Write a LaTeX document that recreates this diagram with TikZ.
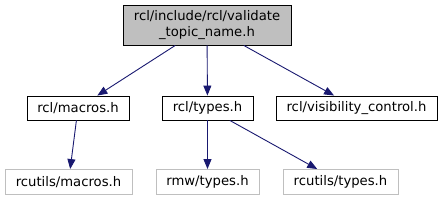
\documentclass[tikz,border=0pt]{standalone}
\usepackage{fontspec}
\setmainfont{DejaVu Sans}
\usetikzlibrary{arrows.meta}
\definecolor{edgeblue}{HTML}{191970}
\definecolor{lightgrayb}{HTML}{BFBFBF}
\tikzset{
  box/.style={draw=black, line width=0.9pt, inner sep=0pt, font=\fontsize{13.2}{16}\selectfont, text=black},
  extbox/.style={draw=lightgrayb, line width=0.9pt, inner sep=0pt, font=\fontsize{13.2}{16}\selectfont, text=black},
  edge/.style={draw=edgeblue, line width=0.9pt, -{Triangle[length=10pt,width=8pt]}, shorten >=0pt}
}
\begin{document}
\begin{tikzpicture}[x=1pt,y=1pt]
\useasboundingbox (0,0) rectangle (445,-201);
\node[box, fill=lightgrayb, minimum width=168pt, minimum height=40pt, align=center] (top) at (207,-25) {rcl/include/rcl/validate\\\_topic\_name.h};
\node[box, minimum width=102pt, minimum height=24pt] (macros) at (78,-108) {rcl/macros.h};
\node[box, minimum width=91pt, minimum height=24pt] (types) at (207.5,-108) {rcl/types.h};
\node[box, minimum width=161pt, minimum height=24pt] (vis) at (356.5,-108) {rcl/visibility\_control.h};
\node[extbox, minimum width=127pt, minimum height=25pt] (rcmacros) at (68.5,-182) {rcutils/macros.h};
\node[extbox, minimum width=103pt, minimum height=25pt] (rmwtypes) at (207.5,-182) {rmw/types.h};
\node[extbox, minimum width=115pt, minimum height=25pt] (rctypes) at (340.5,-182) {rcutils/types.h};
\draw[edge] (top) -- (macros);
\draw[edge] (top) -- (types);
\draw[edge] (top) -- (vis);
\draw[edge] (macros) -- (rcmacros);
\draw[edge] (types) -- (rmwtypes);
\draw[edge] (types) -- (rctypes);
\end{tikzpicture}
\end{document}
